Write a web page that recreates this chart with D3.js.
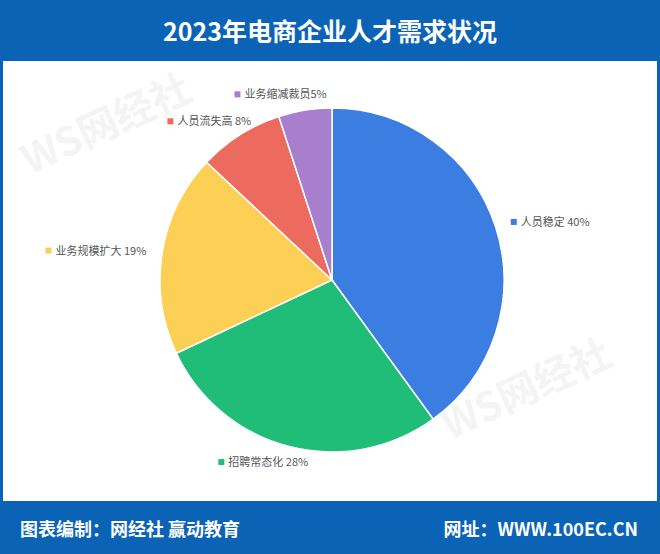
<!DOCTYPE html>
<html><head><meta charset="utf-8">
<script src="https://cdn.jsdelivr.net/npm/d3@7"></script>
<style>body{margin:0;background:#fff}svg{display:block;font-family:"Noto Sans CJK SC",sans-serif}</style>
</head><body><div id="chart"></div>
<script>
const categories = ["人员稳定", "招聘常态化", "业务规模扩大", "人员流失高", "业务缩减裁员"]
const values = [40, 28, 19, 8, 5]
const labels = ["人员稳定 40%", "招聘常态化 28%", "业务规模扩大 19%", "人员流失高 8%", "业务缩减裁员5%"]
const colours = ["#3b7de0", "#20bd79", "#fccf55", "#ec6b5e", "#a77fcd"]

const W = 660, H = 554
const svg = d3.select("#chart").append("svg").attr("width", W).attr("height", H)
const blue = "#0b63b6"

svg.append("rect").attr("width", W).attr("height", H).attr("fill", blue)
svg.append("rect").attr("x", 3).attr("y", 61).attr("width", W - 6).attr("height", 440).attr("fill", "#fff")

svg.append("text").attr("x", W / 2).attr("y", 41).attr("text-anchor", "middle")
    .attr("fill", "#fff").attr("font-size", 25).attr("font-weight", "bold").text("2023年电商企业人才需求状况")
svg.append("text").attr("x", 20).attr("y", 536).attr("fill", "#fff")
    .attr("font-size", 18).attr("font-weight", "bold").text("图表编制：网经社 赢动教育")
svg.append("text").attr("x", 638).attr("y", 536).attr("text-anchor", "end").attr("fill", "#fff")
    .attr("font-size", 18).attr("font-weight", "bold").text("网址：WWW.100EC.CN")

// watermarks
;[[30, 175], [450, 440]].forEach(([x, y]) => {
    svg.append("text").attr("transform", `translate(${x},${y}) rotate(-25)`)
        .attr("fill", "#000").attr("opacity", 0.04).attr("font-size", 40).attr("font-weight", "bold").text("WS网经社")
})

const cx = 332, cy = 280, r = 172
const pie = d3.pie().sort(null).value(d => d)
const arcs = pie(values)
const arc = d3.arc().innerRadius(0).outerRadius(r)
const g = svg.append("g").attr("transform", `translate(${cx},${cy})`)
g.selectAll("path").data(arcs).enter().append("path")
    .attr("d", arc).attr("fill", (d, i) => colours[i]).attr("stroke", "#fff").attr("stroke-width", 1.5)

const lr = 188
arcs.forEach((d, i) => {
    const a = (d.startAngle + d.endAngle) / 2
    const s = Math.sin(a), c = Math.cos(a)
    let x = lr * s, y = -lr * c
    const anchor = s > 0.3 ? "start" : s < -0.7 ? "end" : "middle"
    const t = g.append("text").attr("y", y + 4).attr("font-size", 11).attr("fill", "#555").text(labels[i])
    const w = t.node().getComputedTextLength()
    let x0 = anchor === "start" ? x + 10 : anchor === "end" ? x - w : x - (w + 10) / 2 - 12
    t.attr("x", x0)
    g.append("rect").attr("x", x0 - 10).attr("y", y - 3).attr("width", 6).attr("height", 6).attr("fill", colours[i])
})
</script></body></html>
